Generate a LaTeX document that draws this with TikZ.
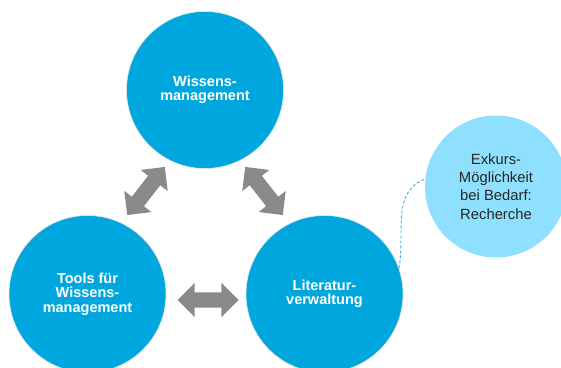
\documentclass[tikz,border=0pt]{standalone}
\usepackage{fontspec}
\setmainfont{Liberation Sans}
\usetikzlibrary{shapes.arrows,positioning}
\definecolor{kreisblau}{RGB}{0,167,222}
\definecolor{hellblau}{RGB}{142,224,254}
\definecolor{pfeilgrau}{RGB}{138,138,138}
\definecolor{linienblau}{RGB}{60,170,220}
\tikzset {
thema/.style={shape=circle,draw=black!10,line width=0.6pt,fill=kreisblau,text=white,inner sep=0pt,minimum size=157pt,align=center,font=\fontsize{14.5}{14.5}\selectfont\bfseries},
exkurs/.style={shape=circle,fill=hellblau,text=black!85,inner sep=0pt,minimum size=142pt,align=center,font=\fontsize{14.8}{18.3}\selectfont},
doppelpfeil/.style={shape=double arrow,fill=pfeilgrau,minimum height=61pt,inner sep=7.5pt,double arrow head extend=9.5pt},
verbindung/.style={draw=linienblau,dashed,dash pattern=on 3pt off 2pt,line width=0.9pt}
}

\begin{document}
\begin{tikzpicture}
[x=1pt,y=1pt]
\useasboundingbox (0,0) rectangle (561,367);
\node[thema] (wissensmanagement) at (205,277) {Wissens-\\management};
\node[thema] (tools) at (87.5,73) {Tools für\\Wissens-\\management};
\node[thema] (literatur) [right of=tools,node distance=237pt] {Literatur-\\verwaltung};
\node[exkurs] (exkurs) at (496,180.5) {Exkurs-\\Möglichkeit\\bei Bedarf:\\Recherche};

\node[doppelpfeil,rotate=52] (pfeil links) at (146,176) {};
\node[doppelpfeil,rotate=-52] (pfeil rechts) at (264,176) {};
\node[doppelpfeil] (pfeil unten) at (208,67) {};

\draw[verbindung] (literatur.19) to[out=80,in=200] (exkurs.174);
\end{tikzpicture}
\end{document}
